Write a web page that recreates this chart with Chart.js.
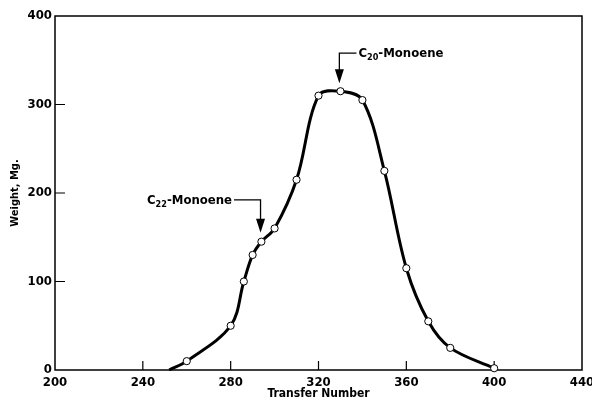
<!DOCTYPE html>
<html>
<head>
<meta charset="utf-8">
<script src="https://cdn.jsdelivr.net/npm/chart.js@4/dist/chart.umd.min.js"></script>
<style>
html,body{margin:0;padding:0;background:#fff;}
canvas{display:block;}
</style>
</head>
<body>
<canvas id="c" width="592" height="402"></canvas>
<script>
// ---- data ----
const transferNumber = [252, 260, 280, 286, 290, 294, 300, 310, 320, 330, 340, 350, 360, 370, 380, 400];
const weightMg       = [0,   10,  50,  100, 130, 145, 160, 215, 310, 315, 305, 225, 115, 55,  25,  2];
const xTickValues = [200, 240, 280, 320, 360, 400, 440];
const yTickValues = [0, 100, 200, 300, 400];
const xTitle = 'Transfer Number';
const yTitle = 'Weight, Mg.';
const peakLabels = [
  {base: 'C', sub: '22', rest: '-Monoene', side: 'left',  textX: 280.6, textY: 191, elbowX: 293.6, tipY: 155},
  {base: 'C', sub: '20', rest: '-Monoene', side: 'right', textX: 338.2, textY: 357, elbowX: 329.5, tipY: 324}
];

const FONT = '"DejaVu Sans Condensed", "Liberation Sans Narrow", sans-serif';

const points = transferNumber.map((x, i) => ({x, y: weightMg[i]}));

const framePlugin = {
  id: 'frame',
  beforeDatasetsDraw(chart) {
    const {ctx, chartArea: a, scales: {x, y}} = chart;
    ctx.save();
    ctx.strokeStyle = '#000';
    ctx.lineWidth = 1.5;
    ctx.strokeRect(a.left, a.top, a.right - a.left, a.bottom - a.top);
    ctx.lineWidth = 1.2;
    ctx.beginPath();
    x.ticks.forEach(t => {
      if (t.value <= x.min || t.value >= x.max) return;
      const px = x.getPixelForValue(t.value);
      ctx.moveTo(px, a.bottom); ctx.lineTo(px, a.bottom - 9);
    });
    y.ticks.forEach(t => {
      if (t.value <= y.min || t.value >= y.max) return;
      const py = y.getPixelForValue(t.value);
      ctx.moveTo(a.left, py); ctx.lineTo(a.left + 10, py);
    });
    ctx.stroke();
    ctx.restore();
  },
  afterDatasetsDraw(chart) {
    const {ctx, scales: {x, y}} = chart;
    ctx.save();
    ctx.fillStyle = '#000';
    ctx.strokeStyle = '#000';
    peakLabels.forEach(p => {
      const big = 'bold 13px ' + FONT, small = 'bold 9px ' + FONT;
      ctx.font = big; const wC = ctx.measureText(p.base).width;
      const wR = ctx.measureText(p.rest).width;
      ctx.font = small; const wS = ctx.measureText(p.sub).width;
      const total = wC + wS + wR;
      const tx = x.getPixelForValue(p.textX);
      const ty = y.getPixelForValue(p.textY);
      const startX = p.side === 'left' ? tx - total : tx;
      ctx.textBaseline = 'middle';
      ctx.textAlign = 'left';
      ctx.font = big; ctx.fillText(p.base, startX, ty);
      ctx.font = small; ctx.fillText(p.sub, startX + wC, ty + 4);
      ctx.font = big; ctx.fillText(p.rest, startX + wC + wS, ty);
      // leader line
      const ex = x.getPixelForValue(p.elbowX);
      const tipY = y.getPixelForValue(p.tipY);
      const lineStart = p.side === 'left' ? tx + 2 : tx - 2;
      ctx.lineWidth = 1.3;
      ctx.beginPath();
      ctx.moveTo(lineStart, ty - 1);
      ctx.lineTo(ex, ty - 1);
      ctx.lineTo(ex, tipY - 12);
      ctx.stroke();
      ctx.beginPath();
      ctx.moveTo(ex - 4.5, tipY - 14);
      ctx.lineTo(ex + 4.5, tipY - 14);
      ctx.lineTo(ex, tipY);
      ctx.closePath();
      ctx.fill();
    });
    ctx.restore();
  }
};

new Chart(document.getElementById('c'), {
  type: 'scatter',
  data: {
    datasets: [{
      data: points,
      showLine: true,
      borderColor: '#000',
      borderWidth: 3,
      tension: 0.35,
      pointRadius: ctx => ctx.dataIndex === 0 ? 0 : 3.6,
      pointBackgroundColor: '#fff',
      pointBorderColor: '#000',
      pointBorderWidth: 1,
      clip: false
    }]
  },
  options: {
    responsive: false,
    animation: false,
    events: [],
    layout: {padding: {top: 16, right: 10, left: 0, bottom: 0}},
    plugins: {legend: {display: false}, tooltip: {enabled: false}},
    scales: {
      x: {
        type: 'linear',
        min: 200, max: 440,
        afterBuildTicks: s => { s.ticks = xTickValues.map(v => ({value: v})); },
        afterFit: s => { s.height = 32; s.paddingLeft = 0; s.paddingRight = 0; },
        grid: {display: false, drawTicks: false},
        border: {display: false},
        ticks: {color: '#000', padding: 5, maxRotation: 0, autoSkip: false,
                font: {family: FONT, size: 13, weight: 'bold'}},
        title: {display: true, text: xTitle, color: '#000', padding: {top: 0, bottom: 1},
                font: {family: FONT, size: 12, weight: 'bold'}}
      },
      y: {
        type: 'linear',
        min: 0, max: 400,
        afterBuildTicks: s => { s.ticks = yTickValues.map(v => ({value: v})); },
        afterFit: s => { s.width = 55; s.paddingTop = 0; s.paddingBottom = 0; },
        grid: {display: false, drawTicks: false},
        border: {display: false},
        ticks: {color: '#000', padding: 3, autoSkip: false,
                font: {family: FONT, size: 13, weight: 'bold'}},
        title: {display: true, text: yTitle, color: '#000', padding: {top: 9, bottom: 0},
                font: {family: FONT, size: 11, weight: 'bold'}}
      }
    }
  },
  plugins: [framePlugin]
});
</script>
</body>
</html>
